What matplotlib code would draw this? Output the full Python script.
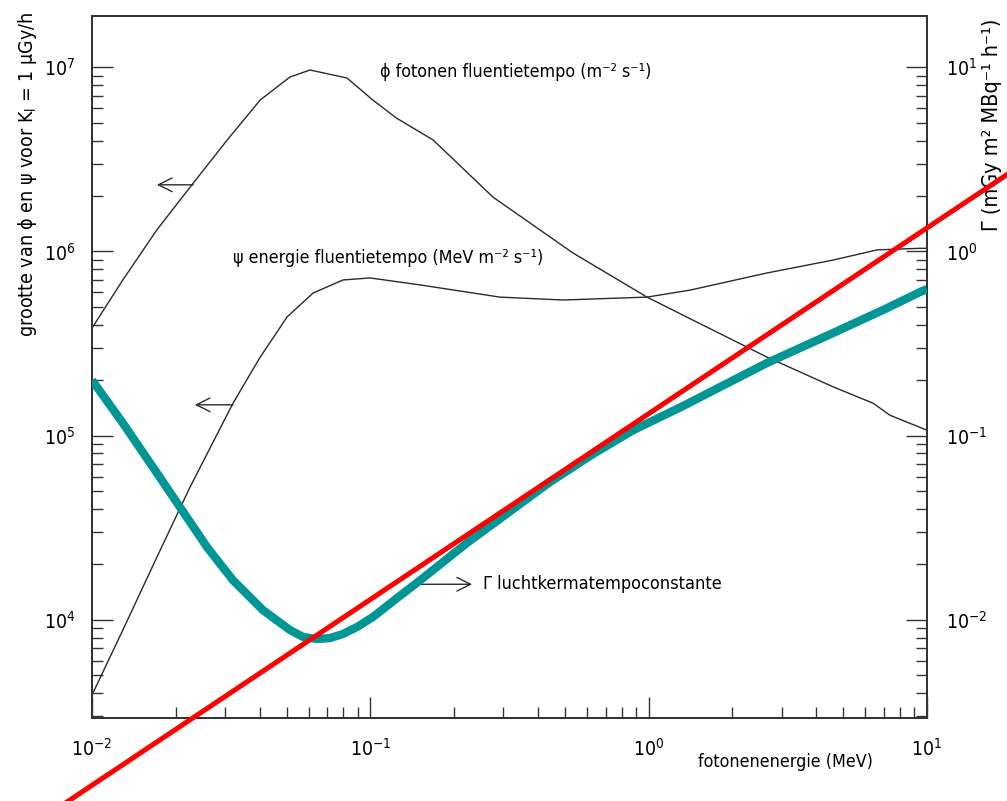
import numpy as np
import matplotlib.pyplot as plt
from matplotlib.ticker import LogLocator, FuncFormatter, NullFormatter

plt.rcParams['font.family'] = ['DejaVu Sans']
plt.rcParams['font.stretch'] = 'condensed'
plt.rcParams['font.size'] = 14

# phi: fotonen fluentietempo (left axis)
phi_energy = [0.01, 0.0129, 0.0171, 0.0231, 0.0306, 0.0402, 0.0514, 0.0607, 0.0824, 0.102,
              0.124, 0.168, 0.276, 0.535, 0.986, 1.44, 2.66, 4.60, 6.40, 7.36, 10]
phi_value = [3.84e5, 7.0e5, 1.31e6, 2.35e6, 4.03e6, 6.64e6, 8.85e6, 9.66e6, 8.74e6, 6.64e6,
             5.3e6, 4.03e6, 1.97e6, 9.8e5, 5.65e5, 4.24e5, 2.67e5, 1.84e5, 1.50e5, 1.29e5, 1.07e5]

# psi: energie fluentietempo (left axis)
psi_energy = [0.01, 0.0129, 0.0171, 0.0225, 0.0321, 0.0402, 0.0502, 0.0622, 0.0797, 0.0998,
              0.151, 0.292, 0.492, 0.986, 1.41, 2.66, 4.60, 6.62, 9.44, 10]
psi_value = [3.91e3, 8.8e3, 2.19e4, 5.26e4, 1.50e5, 2.67e5, 4.41e5, 5.94e5, 7.0e5, 7.18e5,
             6.58e5, 5.65e5, 5.45e5, 5.65e5, 6.17e5, 7.64e5, 8.98e5, 1.02e6, 1.04e6, 1.04e6]

# Gamma: luchtkermatempoconstante (right axis)
gamma_energy = [0.01, 0.0129, 0.0171, 0.0207, 0.0259, 0.0321, 0.0411, 0.0514, 0.0573, 0.0643,
                0.0716, 0.0797, 0.0895, 0.102, 0.1247, 0.151, 0.222, 0.442, 0.631, 0.879,
                1.33, 2.66, 4.60, 6.95, 9.44, 10]
gamma_value = [0.200, 0.117, 0.0627, 0.0409, 0.0248, 0.0164, 0.0113, 0.00881, 0.00807, 0.00787,
               0.00796, 0.00838, 0.00914, 0.01035, 0.01313, 0.0164, 0.0261, 0.0560, 0.0795, 0.107,
               0.145, 0.248, 0.361, 0.481, 0.602, 0.625]

# red straight line (right axis)
red_energy = [0.008, 20]
red_value = [0.00101, 2.70]

xlim = (0.01, 10)
ylim_left = (2931, 1.897e7)
ylim_right = (ylim_left[0] * 1e-6, ylim_left[1] * 1e-6)

fig = plt.figure(figsize=(10.07, 8.01), dpi=100)
ax = fig.add_axes([0.0914, 0.1036, 0.8292, 0.8764])
ax2 = ax.twinx()

ax.plot(phi_energy, phi_value, color="#2a2a2a", lw=1.0)
ax.plot(psi_energy, psi_value, color="#2a2a2a", lw=1.0)

ax2.plot(gamma_energy, gamma_value, color="#009696", lw=6, solid_capstyle="butt",
         solid_joinstyle="round", zorder=3)
ax2.plot(red_energy, red_value, color="#ff0000", lw=3.6, clip_on=False, zorder=4)

for a, lim in [(ax, ylim_left), (ax2, ylim_right)]:
    a.set_xscale("log")
    a.set_yscale("log")
    a.set_xlim(*xlim)
    a.set_ylim(*lim)
    a.yaxis.set_major_locator(LogLocator(base=10))
    a.yaxis.set_minor_locator(LogLocator(base=10, subs=np.arange(2, 10)))
    a.yaxis.set_minor_formatter(NullFormatter())

fmt = FuncFormatter(lambda v, pos: r"$\mathregular{10^{%d}}$" % round(np.log10(v)))
ax.xaxis.set_major_formatter(fmt)
ax.yaxis.set_major_formatter(fmt)
ax2.yaxis.set_major_formatter(fmt)
ax.xaxis.set_minor_formatter(NullFormatter())

ax.tick_params(axis="x", which="both", direction="in", top=False, pad=14, labelsize=14)
ax.tick_params(axis="y", which="both", direction="in", right=False, pad=12, labelsize=14)
ax2.tick_params(axis="y", which="both", direction="in", pad=14, labelsize=14)
for a in (ax, ax2):
    a.tick_params(which="major", length=15, width=1.0, color="#333333")
    a.tick_params(which="minor", length=8, width=1.0, color="#333333")
    for s in a.spines.values():
        s.set_linewidth(1.3)
        s.set_color("#333333")

ax.set_xlabel("fotonenenergie (MeV)", fontsize=12.8)
ax.xaxis.set_label_coords(0.831, -0.050)
ax.set_ylabel("grootte van ϕ en ψ voor K$_\\mathregular{l}$ = 1 μGy/h", fontsize=14, va="center")
ax.yaxis.set_label_coords(-0.077, 0.774)
ax2.set_ylabel("Γ (mGy m² MBq⁻¹ h⁻¹)", fontsize=15.5, va="center", rotation=90)
ax2.yaxis.set_label_coords(1.078, 0.845)

# curve labels
ax.text(0.108, 9.42e6, "ϕ fotonen fluentietempo (m⁻² s⁻¹)", fontsize=12.8, va="center", ha="left")
ax.text(0.0321, 9.2e5, "ψ energie fluentietempo (MeV m⁻² s⁻¹)", fontsize=12.8, va="center", ha="left")
ax.text(0.254, 1.56e4, "Γ luchtkermatempoconstante", fontsize=13, va="center", ha="left")

arrow = dict(arrowstyle="->,head_length=0.7,head_width=0.35", color="#2a2a2a", lw=1.0,
             shrinkA=0, shrinkB=0)
ax.annotate("", xy=(0.0171, 2.30e6), xytext=(0.0231, 2.30e6), arrowprops=arrow)
ax.annotate("", xy=(0.0234, 1.47e5), xytext=(0.0321, 1.47e5), arrowprops=arrow)
ax.annotate("", xy=(0.232, 1.56e4), xytext=(0.142, 1.56e4), arrowprops=arrow)

plt.savefig("out.png", dpi=100)
